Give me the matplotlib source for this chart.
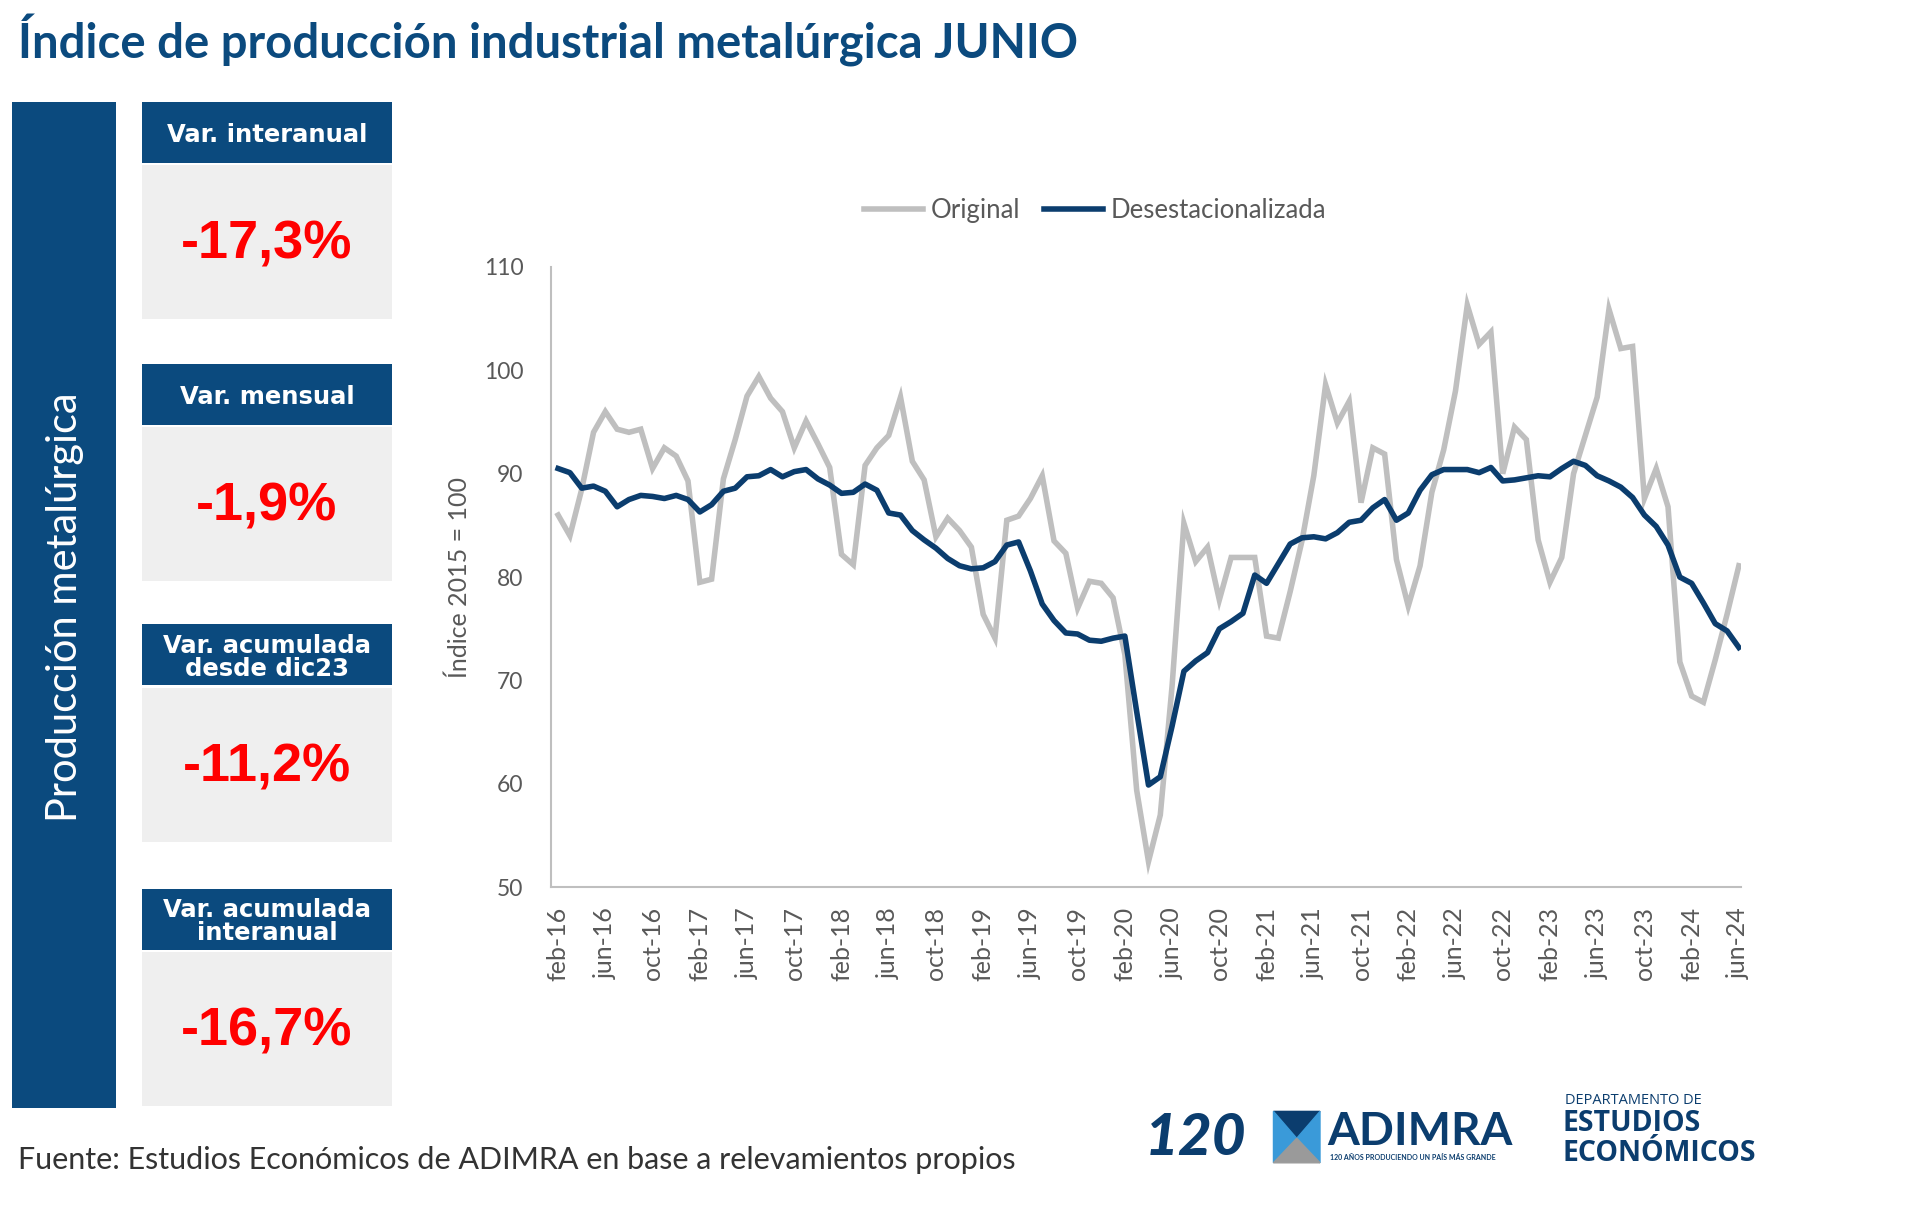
import matplotlib
matplotlib.use("Agg")
import matplotlib.pyplot as plt
from matplotlib.patches import Rectangle, Polygon

# ******************************************************************

meses = ["ene", "feb", "mar", "abr", "may", "jun", "jul", "ago", "sep", "oct", "nov", "dic"]
periodos = [m + "-" + str(a)[2:] for a in range(2016, 2025) for m in meses][1:102]

original = [86.0, 84.0, 88.5, 94.0, 96.0, 94.3, 94.0, 94.3, 90.5, 92.5, 91.7, 89.3,
            79.5, 79.8, 89.5, 93.3, 97.5, 99.4, 97.3, 96.0, 92.5, 95.1, 92.9, 90.6,
            82.2, 81.2, 90.8, 92.5, 93.7, 97.4, 91.2, 89.4, 83.9, 85.7, 84.5, 82.9,
            76.4, 74.1, 85.5, 85.9, 87.6, 89.8, 83.5, 82.3, 77.0, 79.6, 79.4, 78.0,
            72.5, 59.4, 52.5, 57.0, 69.5, 85.2, 81.5, 82.9, 77.8, 81.9, 81.9, 81.9,
            74.3, 74.1, 78.6, 83.5, 89.8, 98.6, 94.9, 97.0, 87.2, 92.5, 91.9, 81.7,
            77.2, 81.1, 88.2, 92.3, 98.0, 106.3, 102.5, 103.7, 90.0, 94.5, 93.3, 83.6,
            79.5, 81.9, 90.0, 93.7, 97.4, 105.9, 102.1, 102.3, 87.6, 90.5, 86.8, 71.8,
            68.5, 67.9, 72.0, 76.4, 81.1]

desest = [90.5, 90.1, 88.6, 88.8, 88.3, 86.8, 87.5, 87.9, 87.8, 87.6, 87.9, 87.5,
          86.3, 87.0, 88.3, 88.6, 89.7, 89.8, 90.4, 89.7, 90.2, 90.4, 89.5, 88.9,
          88.1, 88.2, 89.0, 88.4, 86.2, 86.0, 84.5, 83.6, 82.8, 81.8, 81.1, 80.8,
          80.9, 81.5, 83.1, 83.4, 80.6, 77.4, 75.8, 74.6, 74.5, 73.9, 73.8, 74.1,
          74.3, 67.0, 59.9, 60.7, 65.6, 70.9, 71.9, 72.7, 75.0, 75.7, 76.5, 80.2,
          79.4, 81.3, 83.2, 83.8, 83.9, 83.7, 84.3, 85.3, 85.5, 86.7, 87.5, 85.5,
          86.2, 88.4, 89.9, 90.4, 90.4, 90.4, 90.1, 90.6, 89.3, 89.4, 89.6, 89.8,
          89.7, 90.5, 91.2, 90.8, 89.8, 89.3, 88.7, 87.7, 86.0, 84.9, 83.1, 80.0,
          79.4, 77.5, 75.5, 74.8, 73.2]

kpi_titulos = ["Var. interanual", "Var. mensual", "Var. acumulada\ndesde dic23", "Var. acumulada\ninteranual"]
kpi_valores = ["-17,3%", "-1,9%", "-11,2%", "-16,7%"]

AZUL = "#0b4a7e"
AZUL_LINEA = "#0b3d6e"
GRIS = "#bfbfbf"
TXT = "#595959"

# ******************************************************************

W, H = 1568.0, 1000.0


def fx(x):
    return x / W


def fy(y):
    return 1 - y / H


def rect(fig, x0, y0, x1, y1, color):
    fig.patches.append(Rectangle((fx(x0), fy(y1)), fx(x1) - fx(x0), fy(y0) - fy(y1),
                                 transform=fig.transFigure, color=color, lw=0, zorder=0))


fig = plt.figure(figsize=(19.2, 12.24), dpi=100)
fig.patch.set_facecolor("white")

fig.text(fx(15), fy(33), "Índice de producción industrial metalúrgica JUNIO",
         fontsize=34, fontweight="bold", color=AZUL, family="Lato", va="center", ha="left")

# barra vertical
rect(fig, 10, 83, 95, 905, AZUL)
fig.text(fx(53), fy(496), "Producción metalúrgica", rotation=90, color="white",
         fontsize=30, family="Lato", va="center", ha="center")

# cajas de indicadores
tops = [83, 297, 510, 726]
for top, titulo, valor in zip(tops, kpi_titulos, kpi_valores):
    rect(fig, 116, top, 320, top + 50, AZUL)
    rect(fig, 116, top + 52, 320, top + 178, "#efefef")
    fig.text(fx(218), fy(top + 27), titulo, color="white", fontsize=17.5, fontweight="bold",
             family="DejaVu Sans", ha="center", va="center", linespacing=0.95)
    fig.text(fx(218), fy(top + 117), valor, color="#ff0000", fontsize=39, fontweight="bold",
             family="Liberation Sans", ha="center", va="center")

# grafico
ax = fig.add_axes([fx(450), fy(725), fx(1422) - fx(450), fy(218) - fy(725)])
x = list(range(len(periodos)))
ax.plot(x, original, color=GRIS, lw=4.0, label="Original", solid_joinstyle="miter")
ax.plot(x, desest, color=AZUL_LINEA, lw=4.0, label="Desestacionalizada", solid_joinstyle="round")
ax.set_xlim(-0.6, 100.2)
ax.set_ylim(50, 110)
ax.set_yticks(range(50, 111, 10))
ax.set_xticks(x[::4])
ax.set_xticklabels(periodos[::4], rotation=90)
ax.tick_params(length=0, labelsize=18, colors=TXT)
ax.tick_params(axis="y", pad=20, labelsize=16.5)
ax.tick_params(axis="x", pad=14)
for lab in ax.get_xticklabels() + ax.get_yticklabels():
    lab.set_family("Lato")
for s in ["top", "right"]:
    ax.spines[s].set_visible(False)
for s in ["left", "bottom"]:
    ax.spines[s].set_color("#bfbfbf")
    ax.spines[s].set_linewidth(1.5)
ax.set_ylabel("Índice 2015 = 100", fontsize=18, color=TXT, family="Lato", labelpad=9)
ax.legend(loc="center", bbox_to_anchor=(0.457, 1.09), ncol=2, frameon=False,
          prop={"family": "Lato", "size": 18.5}, labelcolor=TXT, handlelength=2.3,
          columnspacing=0.9, handletextpad=0.3)

fig.text(fx(15), fy(948), "Fuente: Estudios Económicos de ADIMRA en base a relevamientos propios",
         fontsize=22, color="#333333", family="Lato", va="center", ha="left")

# logos
fig.text(fx(935), fy(930), "120", fontsize=42, fontweight="black", color=AZUL_LINEA,
         family="Lato", va="center", ha="left", style="italic")
fig.patches.append(Polygon([(fx(1040), fy(908)), (fx(1078), fy(908)), (fx(1059), fy(930))],
                           transform=fig.transFigure, color=AZUL_LINEA))
fig.patches.append(Polygon([(fx(1040), fy(908)), (fx(1059), fy(930)), (fx(1040), fy(950))],
                           transform=fig.transFigure, color="#3a9ad9"))
fig.patches.append(Polygon([(fx(1078), fy(908)), (fx(1059), fy(930)), (fx(1078), fy(950))],
                           transform=fig.transFigure, color="#3a9ad9"))
fig.patches.append(Polygon([(fx(1040), fy(950)), (fx(1059), fy(930)), (fx(1078), fy(950))],
                           transform=fig.transFigure, color="#9a9a9a"))
fig.text(fx(1084), fy(925), "ADIMRA", fontsize=33, fontweight="bold", color=AZUL_LINEA,
         family="Lato", va="center", ha="left")
fig.text(fx(1086), fy(946), "120 AÑOS PRODUCIENDO UN PAÍS MÁS GRANDE", fontsize=5,
         fontweight="bold", color=AZUL_LINEA, family="Lato", va="center", ha="left")
fig.text(fx(1278), fy(899), "DEPARTAMENTO DE", fontsize=10.5, color=AZUL_LINEA,
         family="Open Sans", va="center", ha="left")
fig.text(fx(1276), fy(918), "ESTUDIOS", fontsize=20.5, fontweight="bold", color=AZUL_LINEA,
         family="Open Sans", va="center", ha="left")
fig.text(fx(1276), fy(942), "ECONÓMICOS", fontsize=20.5, fontweight="bold", color=AZUL_LINEA,
         family="Open Sans", va="center", ha="left")

fig.savefig("out.png", dpi=100)
